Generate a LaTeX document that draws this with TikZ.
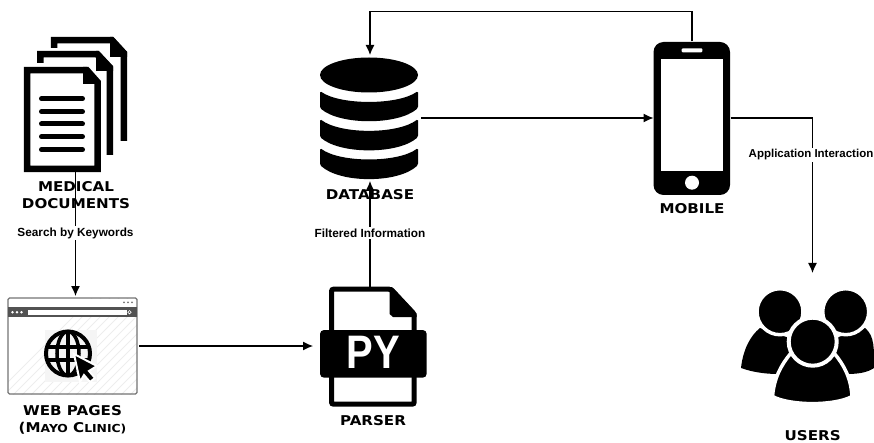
\documentclass[tikz,border=0pt]{standalone}
\usepackage{fontspec}
\usetikzlibrary{arrows.meta}
\setmainfont{Liberation Sans}
\newfontfamily\titlefont[FakeStretch=1.12]{DejaVu Sans}
\tikzset{
    box/.style={inner sep=0, outer sep=0},
    lbl/.style={font=\titlefont\bfseries\fontsize{13.5}{17.5}\selectfont, align=center, inner sep=0},
    edgelbl/.style={font=\bfseries\fontsize{11.8}{13}\selectfont, fill=white, inner sep=1.5pt},
    link/.style={line width=1.2pt, -{Latex[length=10pt,width=9pt]}},
    page/.style={line width=6.5pt, miter limit=2},
    band/.style={fill=black, rounded corners=1.5pt}
}
\newcommand{\lowcap}[1]{{\fontsize{11}{17.5}\selectfont #1}}
\begin{document}
\begin{tikzpicture}[x=1pt, y=-1pt]
    \useasboundingbox (0,0) rectangle (874,443);
    \clip (0,0) rectangle (874,443);

    % Boxes the links attach to
    \node[box, minimum width=103pt, minimum height=135pt] (docs) at (75.5,104.5) {};
    \node[box, minimum width=133pt, minimum height=100pt] (web) at (72.5,346) {};
    \node[box, minimum width=114pt, minimum height=119pt] (parser) at (370,346) {};
    \node[box, minimum width=102pt, minimum height=126pt] (db) at (370,118) {};
    \node[box, minimum width=77pt, minimum height=153pt] (mobile) at (692,118) {};
    \node[box, minimum width=143pt, minimum height=131pt] (users) at (812.5,338.5) {};

    % Documents
    \draw[page] (54,48) -- (54,40.2) -- (112,40.2) -- (123.8,53) -- (123.8,141);
    \fill (110,37) -- (113,37) -- (127,52) -- (127,57) -- (110,57) -- cycle;
    \draw[page] (40.3,63) -- (40.3,54.2) -- (97,54.2) -- (109.8,68) -- (109.8,155);
    \fill (96,51) -- (99,51) -- (113,66) -- (113,71) -- (96,71) -- cycle;
    \draw[page] (27.2,70.2) -- (87,70.2) -- (97.5,82) -- (97.5,168.8) -- (27.2,168.8) -- cycle;
    \fill (83,67) -- (87,67) -- (100.7,82) -- (100.7,84) -- (83,84) -- cycle;
    \foreach \y in {98.7, 111.7, 124, 136.7, 149.7} {
        \draw[line width=5pt, line cap=round] (41.5,\y) -- (82.5,\y);
    }

    % Web page
    \begin{scope}
        \clip (8,298) rectangle (137,394);
        \foreach \i in {0,...,26} {
            \draw[black!7, line width=0.8pt] (\i*9-10,400) -- (\i*9+100,290);
        }
    \end{scope}
    \fill[white] (8.5,298.5) rectangle (136.5,307);
    \fill[black!4] (45,330) rectangle (97,382);
    \draw[black!55, line width=1.3pt, rounded corners=1.5pt] (8,298) rectangle (137,394);
    \fill[black!68] (8,307) rectangle (137,317);
    \fill[white] (28,310) rectangle (126.5,314.5);
    \foreach \x in {12.5, 17, 21.5} {
        \fill[white] (\x,312.2) circle (1.4pt);
    }
    \draw[white, line width=0.7pt] (129.5,312.2) circle (1.7pt);
    \foreach \x in {124, 128, 132} {
        \fill[black!55] (\x,302.3) circle (1pt);
    }
    \draw[line width=4pt] (68,353.5) circle (22pt);
    \draw[line width=3.5pt] (68,353.5) ellipse (11pt and 22pt);
    \draw[line width=3.5pt] (68,331.5) -- (68,375.5);
    \draw[line width=3.5pt] (48,347) -- (88,347);
    \draw[line width=3.5pt] (48,360) -- (88,360);
    \fill[draw=white, line width=2pt] (74,354) -- (97,366) -- (89,371) -- (95,378) -- (90,382) -- (84,375) -- (80,382) -- cycle;

    % Parser file
    \draw[line width=5pt, rounded corners=2pt] (331.5,289.2) -- (391,289.2) -- (414.2,314) -- (414.2,404.2) -- (331.5,404.2) -- cycle;
    \fill (389.5,287) -- (392,287) -- (416.5,313.5) -- (416.5,317) -- (393,317) -- (389.5,314) -- cycle;
    \fill[rounded corners=4pt] (320,330) rectangle (426.7,377.7);
    \node[white, font=\bfseries\fontsize{47}{47}\selectfont, xscale=0.85, inner sep=0] (py) at (373.5,352) {PY};

    % Database
    \fill (369,75) ellipse (49pt and 17.5pt);
    \fill[band] (320,91) .. controls (340,105.3) and (398,105.3) .. (418,91) -- (418,108) .. controls (398,125.3) and (340,125.3) .. (320,108) -- cycle;
    \fill[band] (320,119) .. controls (340,134.5) and (398,134.5) .. (418,119) -- (418,137) .. controls (398,154.5) and (340,154.5) .. (320,137) -- cycle;
    \fill[band] (320,148) .. controls (340,163) and (398,163) .. (418,148) -- (418,165) .. controls (398,183.5) and (340,183.5) .. (320,165) -- cycle;

    % Mobile
    \fill[rounded corners=10pt] (653.5,42) rectangle (730,195);
    \fill[white] (660.7,59) rectangle (723.3,170.7);
    \fill[white, rounded corners=1pt] (681.7,48.3) rectangle (702.3,52.3);
    \fill[white] (692,182.7) circle (7pt);

    % Users
    \fill (741,368) .. controls (743,350) and (750,336) .. (760,328) -- (795,340) -- (795,374) -- (778,374) .. controls (765,374) and (752,372) .. (741,368) -- cycle;
    \fill (874,368) .. controls (874,350) and (875,336) .. (865,328) -- (830,340) -- (830,374) -- (847,374) .. controls (860,374) and (868,372) .. (874,368) -- cycle;
    \fill[draw=white, line width=3.5pt] (780,311.7) circle (23pt);
    \fill[draw=white, line width=3.5pt] (845.7,311.7) circle (23pt);
    \fill[draw=white, line width=3.5pt] (772.5,396.5) .. controls (774,378) and (781,365) .. (791,353) -- (834,353) .. controls (844,365) and (851,378) .. (852,396.5) .. controls (835,406) and (790,406) .. (772.5,396.5) -- cycle;
    \fill[draw=white, line width=4pt] (812.7,341.7) circle (24pt);

    % Links
    \draw[link] (docs.south) -- (docs.south |- web.north);
    \draw[link] (web.east) -- (parser.west);
    \draw[link] (parser.north) -- (db.south);
    \draw[link] (db.east) -- (mobile.west);
    \draw[link] (mobile.north) -- ++(0,-30) -| (db.north);
    \draw[link] (mobile.east) -| (users.north);

    % Labels on the links
    \node[edgelbl] (search) at (75.5,233) {Search by Keywords};
    \node[edgelbl] (filtered) at (370,233) {Filtered Information};
    \node[edgelbl, font=\bfseries\fontsize{11.5}{13}\selectfont, anchor=west] (interaction) at (747,155) {Application Interaction};

    % Titles
    \node[lbl] (docstitle) at (76,195) {MEDICAL\\DOCUMENTS};
    \node[lbl] (webtitle) at (72.5,420) {WEB PAGES\\(M\lowcap{AYO} C\lowcap{LINIC)}};
    \node[lbl] (parsertitle) at (373,421) {PARSER};
    \node[lbl] (dbtitle) at (370,195) {DATABASE};
    \node[lbl] (mobiletitle) at (692,209) {MOBILE};
    \node[lbl] (userstitle) at (812.7,435.7) {USERS};
\end{tikzpicture}
\end{document}
